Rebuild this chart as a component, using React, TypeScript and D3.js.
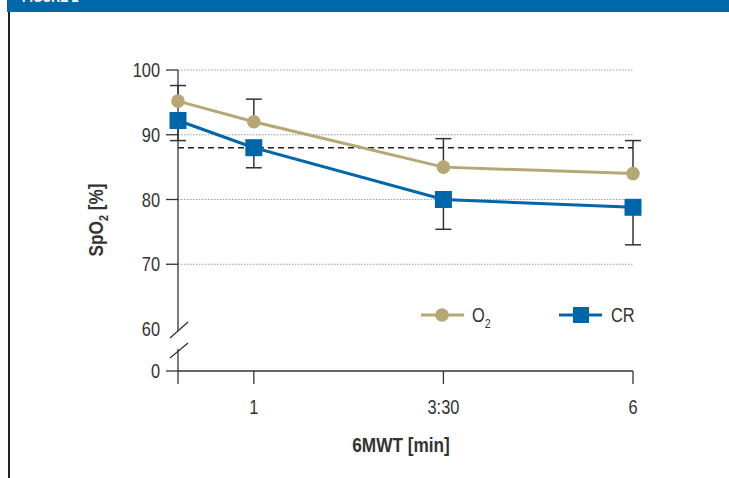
import React, { useEffect, useRef } from "react";
import * as d3 from "d3";

// time points (minutes) and their tick labels
const times = [0, 1, 3.5, 6];
const tickTimes = [1, 3.5, 6];
const tickLabels = ["1", "3:30", "6"];

// SpO2 means per series
const o2Values = [95.2, 92.0, 85.0, 84.0];
const crValues = [92.2, 88.0, 80.0, 78.8];

// error bar ends (O2 drawn upward, CR drawn downward)
const o2Upper = [97.6, 95.5, 89.4, 89.1];
const crLower = [89.1, 84.9, 75.4, 73.0];

const yTicks = [70, 80, 90, 100];
const threshold = 88;

const O2_COLOR = "#b5a874";
const CR_COLOR = "#0066aa";
const FONT = "'Liberation Sans', Arial, sans-serif";
const FS = 20;
const NARROW = 0.82; // condensed look

export default function App() {
  const ref = useRef<SVGSVGElement | null>(null);

  useEffect(() => {
    const svg = d3.select(ref.current);
    svg.selectAll("*").remove();

    // condensed text helper
    const label = (parent: any, tx: number, ty: number, anchor: string, size: number, bold = false, rot = 0) => {
      const tg = parent.append("g")
        .attr("transform", `translate(${tx},${ty}) rotate(${rot}) scale(${NARROW},1)`);
      return tg.append("text")
        .attr("text-anchor", anchor).attr("font-family", FONT)
        .attr("font-weight", bold ? "bold" : "normal")
        .attr("font-size", size).attr("fill", "#333");
    };

    // header bar + frame
    svg.append("rect").attr("x", 7).attr("y", 0).attr("width", 722).attr("height", 12).attr("fill", "#0067a9");
    label(svg, 22, 2, "start", 15, true).attr("fill", "#fff").text("FIGURE 2");
    svg.append("line").attr("x1", 9).attr("x2", 9).attr("y1", 12).attr("y2", 478)
      .attr("stroke", "#222").attr("stroke-width", 2);

    const x = d3.scaleLinear().domain([0, 6]).range([178, 633]);
    const y = d3.scaleLinear().domain([60, 100]).range([329, 70]);
    const yZero = 371;

    const g = svg.append("g");

    // grid lines
    g.selectAll(".grid").data(yTicks).join("line")
      .attr("x1", x(0)).attr("x2", x(6))
      .attr("y1", d => y(d)).attr("y2", d => y(d))
      .attr("stroke", "#999").attr("stroke-width", 1).attr("stroke-dasharray", "1.5,1.5");

    // threshold dashed line
    g.append("line").attr("x1", x(0)).attr("x2", x(6))
      .attr("y1", y(threshold)).attr("y2", y(threshold))
      .attr("stroke", "#222").attr("stroke-width", 1.6).attr("stroke-dasharray", "6,4");

    // y axis (with break)
    const axisColor = "#333";
    g.append("line").attr("x1", x(0)).attr("x2", x(0)).attr("y1", y(100)).attr("y2", 331)
      .attr("stroke", axisColor).attr("stroke-width", 1.3);
    g.append("line").attr("x1", x(0)).attr("x2", x(0)).attr("y1", 349).attr("y2", 384)
      .attr("stroke", axisColor).attr("stroke-width", 1.3);
    g.append("line").attr("x1", 170).attr("x2", 188).attr("y1", 338).attr("y2", 322)
      .attr("stroke", axisColor).attr("stroke-width", 1.3);
    g.append("line").attr("x1", 170).attr("x2", 188).attr("y1", 358).attr("y2", 343)
      .attr("stroke", axisColor).attr("stroke-width", 1.3);

    g.selectAll(".ytick").data(yTicks).join("line")
      .attr("x1", 166).attr("x2", x(0)).attr("y1", d => y(d)).attr("y2", d => y(d))
      .attr("stroke", axisColor).attr("stroke-width", 1.3);
    g.append("line").attr("x1", 166).attr("x2", x(0)).attr("y1", yZero).attr("y2", yZero)
      .attr("stroke", axisColor).attr("stroke-width", 1.3);

    [...yTicks, 60].forEach(v => {
      label(g, 160, y(v) + 7, "end", FS).text(String(v));
    });
    label(g, 160, yZero + 7, "end", FS).text("0");

    // x axis
    g.append("line").attr("x1", x(0)).attr("x2", x(6)).attr("y1", yZero).attr("y2", yZero)
      .attr("stroke", axisColor).attr("stroke-width", 1.3);
    g.selectAll(".xtick").data(tickTimes).join("line")
      .attr("x1", d => x(d)).attr("x2", d => x(d)).attr("y1", yZero).attr("y2", yZero + 13)
      .attr("stroke", axisColor).attr("stroke-width", 1.3);
    tickTimes.forEach((t, i) => {
      label(g, x(t), 414, "middle", FS).text(tickLabels[i]);
    });

    // axis titles
    label(g, 401, 452, "middle", 21, true).text("6MWT [min]");
    const yt = label(g, 103, 220, "middle", 21, true, -90);
    yt.append("tspan").text("SpO");
    yt.append("tspan").attr("font-size", 13).attr("dy", 5).text("2");
    yt.append("tspan").attr("dy", -5).text(" [%]");

    // error bars
    const errBars = (vals: number[], ends: number[]) => {
      const eg = g.append("g");
      times.forEach((t, i) => {
        eg.append("line").attr("x1", x(t)).attr("x2", x(t)).attr("y1", y(vals[i])).attr("y2", y(ends[i]))
          .attr("stroke", "#333").attr("stroke-width", 1.5);
        eg.append("line").attr("x1", x(t) - 8).attr("x2", x(t) + 8).attr("y1", y(ends[i])).attr("y2", y(ends[i]))
          .attr("stroke", "#333").attr("stroke-width", 1.5);
      });
    };
    errBars(o2Values, o2Upper);
    errBars(crValues, crLower);

    const line = d3.line<number>().x((d, i) => x(times[i])).y(d => y(d));

    g.append("path").attr("d", line(o2Values)).attr("fill", "none")
      .attr("stroke", O2_COLOR).attr("stroke-width", 3);
    g.selectAll(".o2pt").data(o2Values).join("circle")
      .attr("cx", (d, i) => x(times[i])).attr("cy", d => y(d)).attr("r", 6.8).attr("fill", O2_COLOR);

    g.append("path").attr("d", line(crValues)).attr("fill", "none")
      .attr("stroke", CR_COLOR).attr("stroke-width", 3);
    g.selectAll(".crpt").data(crValues).join("rect")
      .attr("x", (d, i) => x(times[i]) - 8.5).attr("y", d => y(d) - 8.5)
      .attr("width", 17).attr("height", 17).attr("fill", CR_COLOR);

    // legend
    const ly = 315;
    g.append("line").attr("x1", 421).attr("x2", 464).attr("y1", ly).attr("y2", ly)
      .attr("stroke", O2_COLOR).attr("stroke-width", 3);
    g.append("circle").attr("cx", 442).attr("cy", ly).attr("r", 6.8).attr("fill", O2_COLOR);
    const lt = label(g, 472, ly + 7, "start", FS);
    lt.append("tspan").text("O");
    lt.append("tspan").attr("font-size", 13).attr("dy", 6).text("2");

    g.append("line").attr("x1", 559).attr("x2", 602).attr("y1", ly).attr("y2", ly)
      .attr("stroke", CR_COLOR).attr("stroke-width", 3);
    g.append("rect").attr("x", 573).attr("y", ly - 8).attr("width", 16).attr("height", 16).attr("fill", CR_COLOR);
    label(g, 611, ly + 7, "start", FS).text("CR");
  }, []);

  return (
    <svg ref={ref} width={729} height={478}
      style={{ position: "absolute", left: 0, top: 0, background: "#fff" }} />
  );
}
